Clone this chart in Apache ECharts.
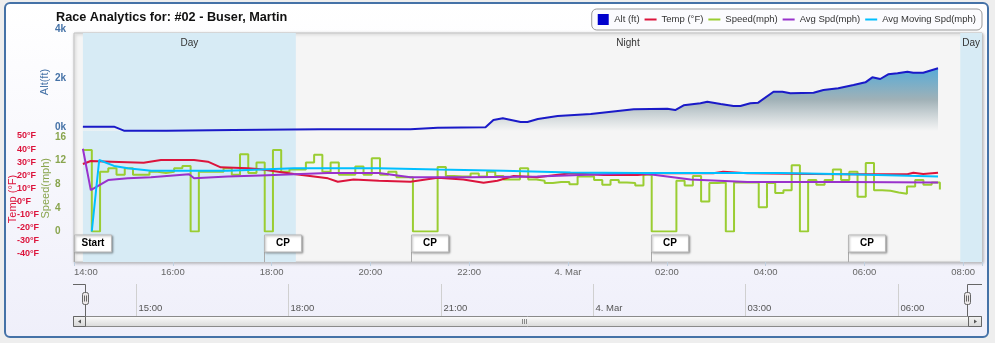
<!DOCTYPE html>
<html><head><meta charset="utf-8">
<script src="https://cdn.jsdelivr.net/npm/echarts@6.0.0/dist/echarts.min.js"></script>
<style>html,body{margin:0;padding:0;background:#eeeeee;}#c{width:995px;height:343px;}</style>
</head><body><div id="c"></div>
<script>
// ---------- data (time in hours from 00:00 of 3 Mar; 24 = 4. Mar 00:00) ----------
const chartTitle = 'Race Analytics for: #02 - Buser, Martin';
const xMin = 14, xMax = 32.38;
const navMin = 14, navMax = 31.38;
const navTicks = [15, 18, 21, 24, 27, 30];
const bandNames = ['Day', 'Night', 'Day'];
const bandStart = [14.18, 18.49, 31.94];
const bandEnd = [18.49, 31.94, 32.38];
const flagTimes = [14.0, 17.84, 20.83, 25.67, 29.67];
const flagLabels = ['Start', 'CP', 'CP', 'CP', 'CP'];

const altT = [14.18,14.81,15.01,15.88,17.23,18.99,19.54,20.81,21.36,22.33,22.49,22.68,23.04,23.18,23.39,23.79,24.46,25.33,26.01,26.17,26.34,26.68,26.82,27.09,27.35,27.49,27.69,27.85,28.16,28.34,28.50,28.97,29.17,29.47,29.78,30.02,30.16,30.32,30.48,30.67,30.87,30.99,31.19,31.49];
const altV = [176,176,15,12,41,68,68,68,136,150,449,517,367,370,490,612,694,884,912,857,1048,1130,1197,1102,1020,1020,1130,1156,1604,1604,1537,1564,1673,1741,1877,1986,2190,2122,2313,2354,2422,2381,2381,2558];

const tempT = [14.18,14.34,14.75,15.41,15.76,16.43,16.71,16.97,17.52,17.78,18.45,19.14,19.34,19.66,20.17,20.81,21.36,21.88,22.29,22.57,22.90,23.38,24.05,24.72,25.41,25.81,26.28,26.94,27.14,27.63,28.97,29.65,30.87,30.99,31.19,31.49];
const tempV = [28.6,30.9,30.4,29.6,31.7,31.7,30.4,26.1,25.4,24.6,21.0,17.7,15.1,16.9,15.9,15.1,18.2,16.9,14.4,15.9,19.5,18.5,21.6,20.3,20.3,21.6,21.6,21.6,22.8,21.6,21.0,20.8,20.8,22.0,21.0,22.0];

// speed sampled every 10 minutes from 14:11
const speedStart = 14.194;
const speedStepMin = 10;
const speedV = [13.8,0,10.1,10.7,9.6,10.7,9.6,9.6,10.1,9.9,10.1,10.7,11.1,0,10.1,10.1,10.1,10.7,9.6,13.1,9.9,11.7,0,13.8,10.1,10.5,10.5,11.7,13.0,10.1,11.7,9.6,9.6,11.0,9.6,12.4,9.6,10.1,9.2,9.2,0,0,0,10.9,9.4,9.3,9.3,9.8,9.3,10.1,9.4,8.8,8.8,10.7,8.8,8.6,8.2,8.4,8.4,8.0,9.3,9.3,8.7,7.9,8.7,8.3,8.2,7.8,9.6,0,0,0,8.6,7.8,9.4,5.1,8.2,8.3,0,8.3,8.3,8.3,4.1,8.2,6.5,7.0,11.2,0,8.7,7.9,8.7,10.5,8.7,10.1,5.9,11.6,7.0,6.9,6.6,6.4,7.6,8.7,7.9,8.3,7.1];

const avgT = [14.18,14.34,14.69,15.09,15.56,16.33,16.43,17.11,17.78,18.45,19.14,20.17,20.81,22.03,23.38,25.41,25.73,26.48,27.63,29.65,31.49];
const avgV = [14.0,7.0,8.7,9.0,9.2,9.7,9.0,9.3,9.5,9.7,9.9,9.9,9.2,9.2,9.3,9.9,9.6,8.8,8.4,8.4,8.3];

const movT = [14.36,14.51,14.81,15.09,15.56,16.43,17.11,17.78,18.45,20.17,21.36,22.70,24.05,25.41,26.48,28.30,29.65,31.49];
const movV = [0,12.1,11.1,10.7,10.3,10.3,10.3,10.5,10.7,10.7,10.5,10.3,10.0,9.9,9.9,9.9,9.7,9.3];

// ---------- chart ----------
const FONT = '"Liberation Sans", Arial, sans-serif';
const pair = (t, v) => t.map((x, i) => [x, v[i]]);
const speedData = speedV.map((v, i) => [speedStart + i * speedStepMin / 60, v]);
function fmtHour(v) {
  const r = Math.round(v);
  if (Math.abs(v - r) > 1e-6) return '';
  const h = r % 24;
  if (h === 0) return '4. Mar';
  return (h < 10 ? '0' : '') + h + ':00';
}
function fmtMain(v) {
  const r = Math.round(v);
  if (Math.abs(v - r) > 1e-6 || r % 2) return '';
  return fmtHour(v);
}

const chart = echarts.init(document.getElementById('c'), null, {renderer: 'canvas'});
const gridBase = {left: 74, right: 13, containLabel: false, outerBoundsMode: 'none'};
const hiddenX = (g, min, max) => ({type: 'value', gridIndex: g, min: min, max: max, show: false});
const yCommon = {type: 'value', position: 'left', axisLine: {show: false}, axisTick: {show: false}, splitLine: {show: false}, nameLocation: 'middle', nameRotate: 90, nameMoveOverlap: false};
const G = echarts.graphic;
const LINE_ICON = 'path://M0,0L12,0L12,2L0,2Z';

const option = {
  animation: false,
  backgroundColor: '#eeeeee',
  title: {text: chartTitle, left: 51, top: 6, textStyle: {fontSize: 12.7, fontWeight: 'bold', color: '#111', fontFamily: FONT}},
  legend: {
    right: 13, top: 9, selectedMode: false, symbolKeepAspect: true,
    data: [
      {name: 'Alt (ft)', icon: 'path://M0,0L10,0L10,10L0,10Z'},
      {name: 'Temp (°F)', icon: LINE_ICON},
      {name: 'Speed(mph)', icon: LINE_ICON},
      {name: 'Avg Spd(mph)', icon: LINE_ICON},
      {name: 'Avg Moving Spd(mph)', icon: LINE_ICON}
    ],
    itemWidth: 12, itemHeight: 11, itemGap: 5, padding: [5, 6, 5, 6],
    backgroundColor: '#fbfbfe', borderColor: '#999', borderWidth: 1, borderRadius: 5,
    textStyle: {fontSize: 9.5, color: '#333', fontFamily: FONT}
  },
  grid: [
    Object.assign({}, gridBase, {top: 33, height: 229, show: true, backgroundColor: '#f5f5f5', borderColor: '#c2c2c2', borderWidth: 1, shadowColor: 'rgba(0,0,0,0.25)', shadowBlur: 3, shadowOffsetX: 1, shadowOffsetY: 1}),
    Object.assign({}, gridBase, {top: 33, height: 98}),
    Object.assign({}, gridBase, {top: 137, height: 94.5}),
    Object.assign({}, gridBase, {top: 136, height: 118}),
    {left: 85, right: 27, top: 284, height: 32, containLabel: false, outerBoundsMode: 'none'}
  ],
  xAxis: [
    {type: 'value', gridIndex: 0, min: xMin, max: xMax, interval: 2,
     axisLine: {show: false}, axisTick: {show: true, length: 4, lineStyle: {color: '#c0d0e0'}},
     splitLine: {show: false},
     axisLabel: {margin: 5, color: '#666', fontSize: 9.5, fontFamily: FONT, formatter: fmtMain, alignMinLabel: 'left', showMinLabel: true}},
    hiddenX(1, xMin, xMax), hiddenX(2, xMin, xMax), hiddenX(3, xMin, xMax), hiddenX(4, navMin, navMax)
  ],
  yAxis: [
    {type: 'value', gridIndex: 0, min: 0, max: 1, show: false},
    Object.assign({}, yCommon, {gridIndex: 1, min: 0, max: 4000, interval: 2000,
      axisLabel: {align: 'left', verticalAlign: 'bottom', lineHeight: 7, margin: 19, color: '#4572a7', fontWeight: 'bold', fontSize: 10, fontFamily: FONT, formatter: v => (v / 1000) + 'k'},
      name: 'Alt(ft)', nameGap: 24, nameTextStyle: {color: '#4572a7', fontSize: 11, fontFamily: FONT}}),
    Object.assign({}, yCommon, {gridIndex: 2, min: 0, max: 16, interval: 4,
      axisLabel: {align: 'left', margin: 19, color: '#89a54e', fontWeight: 'bold', fontSize: 10, fontFamily: FONT},
      name: 'Speed(mph)', nameGap: 23, nameTextStyle: {color: '#89a54e', fontSize: 11, fontFamily: FONT, padding: [0, 8, 0, 0]}}),
    Object.assign({}, yCommon, {gridIndex: 3, min: -40, max: 50, interval: 10,
      axisLabel: {align: 'left', margin: 57, color: '#dc143c', fontWeight: 'bold', fontSize: 9, fontFamily: FONT, formatter: v => v + '°F'},
      name: 'Temp (°F)', nameGap: 56, nameTextStyle: {color: '#dc143c', fontSize: 11, fontFamily: FONT, padding: [0, 8, 0, 0]}}),
    {type: 'value', gridIndex: 4, min: 0, max: 1, show: false}
  ],
  graphic: [
    {type: 'rect', z: -10, shape: {x: 5, y: 3, width: 983, height: 334, r: 5},
     style: {fill: new G.LinearGradient(0, 0, 0, 1, [{offset: 0, color: '#ffffff'}, {offset: 1, color: '#efeffa'}]), stroke: '#4572a7', lineWidth: 2}},
    // navigator outline
    {type: 'polyline', z: 50, shape: {points: [[73, 284.5], [85.5, 284.5], [85.5, 316]]}, style: {stroke: '#666', lineWidth: 1, fill: null}},
    {type: 'polyline', z: 50, shape: {points: [[967.5, 316], [967.5, 284.5], [982, 284.5]]}, style: {stroke: '#666', lineWidth: 1, fill: null}},
    // handles
    {type: 'rect', z: 51, shape: {x: 82.5, y: 292.5, width: 6, height: 12, r: 2}, style: {fill: '#ebe7e8', stroke: '#666', lineWidth: 1}},
    {type: 'line', z: 52, shape: {x1: 84.5, y1: 295.5, x2: 84.5, y2: 301.5}, style: {stroke: '#666', lineWidth: 1}},
    {type: 'line', z: 52, shape: {x1: 86.5, y1: 295.5, x2: 86.5, y2: 301.5}, style: {stroke: '#666', lineWidth: 1}},
    {type: 'rect', z: 51, shape: {x: 964.5, y: 292.5, width: 6, height: 12, r: 2}, style: {fill: '#ebe7e8', stroke: '#666', lineWidth: 1}},
    {type: 'line', z: 52, shape: {x1: 966.5, y1: 295.5, x2: 966.5, y2: 301.5}, style: {stroke: '#666', lineWidth: 1}},
    {type: 'line', z: 52, shape: {x1: 968.5, y1: 295.5, x2: 968.5, y2: 301.5}, style: {stroke: '#666', lineWidth: 1}},
    // scrollbar
    {type: 'rect', z: 50, shape: {x: 73.5, y: 316.5, width: 908, height: 10},
     style: {fill: new G.LinearGradient(0, 0, 0, 1, [{offset: 0, color: '#fdfdfd'}, {offset: 1, color: '#d8d8d8'}]), stroke: '#8a8a8a', lineWidth: 1}},
    {type: 'rect', z: 51, shape: {x: 73.5, y: 316.5, width: 12, height: 10},
     style: {fill: new G.LinearGradient(0, 0, 0, 1, [{offset: 0, color: '#f4f4f4'}, {offset: 1, color: '#d6d6d6'}]), stroke: '#666', lineWidth: 1}},
    {type: 'rect', z: 51, shape: {x: 968.5, y: 316.5, width: 13, height: 10},
     style: {fill: new G.LinearGradient(0, 0, 0, 1, [{offset: 0, color: '#f4f4f4'}, {offset: 1, color: '#d6d6d6'}]), stroke: '#666', lineWidth: 1}},
    {type: 'polygon', z: 52, shape: {points: [[81, 319.5], [81, 323.5], [78, 321.5]]}, style: {fill: '#555'}},
    {type: 'polygon', z: 52, shape: {points: [[974, 319.5], [974, 323.5], [977, 321.5]]}, style: {fill: '#555'}},
    {type: 'line', z: 52, shape: {x1: 522.5, y1: 319, x2: 522.5, y2: 324}, style: {stroke: '#888', lineWidth: 1}},
    {type: 'line', z: 52, shape: {x1: 524.5, y1: 319, x2: 524.5, y2: 324}, style: {stroke: '#888', lineWidth: 1}},
    {type: 'line', z: 52, shape: {x1: 526.5, y1: 319, x2: 526.5, y2: 324}, style: {stroke: '#888', lineWidth: 1}}
  ],
  series: [
    {name: 'bands', type: 'line', xAxisIndex: 0, yAxisIndex: 0, data: [], silent: true, z: 1,
     markArea: {silent: true, itemStyle: {color: '#d7ebf5'},
       label: {position: 'insideTop', distance: 5, color: '#333', fontSize: 10, fontFamily: FONT},
       data: bandStart.map((s, i) => [
         Object.assign({name: bandNames[i], xAxis: s}, bandNames[i] === 'Night' ? {itemStyle: {color: 'rgba(0,0,0,0)'}} : {}),
         {xAxis: bandEnd[i]}])}},
    {name: 'Alt (ft)', type: 'line', xAxisIndex: 1, yAxisIndex: 1, data: pair(altT, altV), symbol: 'none', z: 3,
     color: '#0000cc', lineStyle: {color: '#1a1ac8', width: 2},
     areaStyle: {color: new G.LinearGradient(0, 0, 0, 1, [{offset: 0, color: '#138ccb'}, {offset: 0.5, color: '#7c949c'}, {offset: 1, color: 'rgba(245,245,245,0.9)'}])}},
    {name: 'Speed(mph)', type: 'line', step: 'end', xAxisIndex: 2, yAxisIndex: 2, data: speedData, symbol: 'none', z: 4,
     color: '#9acd32', lineStyle: {color: '#9acd32', width: 2}},
    {name: 'Temp (°F)', type: 'line', xAxisIndex: 3, yAxisIndex: 3, data: pair(tempT, tempV), symbol: 'none', z: 5,
     color: '#dc143c', lineStyle: {color: '#dc143c', width: 2}},
    {name: 'Avg Spd(mph)', type: 'line', xAxisIndex: 2, yAxisIndex: 2, data: pair(avgT, avgV), symbol: 'none', z: 5,
     color: '#9932cc', lineStyle: {color: '#9932cc', width: 2}},
    {name: 'Avg Moving Spd(mph)', type: 'line', xAxisIndex: 2, yAxisIndex: 2, data: pair(movT, movV), symbol: 'none', z: 5,
     color: '#00bfff', lineStyle: {color: '#00bfff', width: 2}},
    {name: 'flags', type: 'custom', xAxisIndex: 0, yAxisIndex: 0, data: flagTimes.map((t, i) => [t, i]), clip: false, silent: true, z: 10,
     renderItem: function (params, api) {
       const x = Math.round(api.coord([api.value(0), 0])[0]) + 0.5;
       const cs = params.coordSys;
       const b = cs.y + cs.height;
       const label = flagLabels[api.value(1)];
       return {type: 'group', children: [
         {type: 'line', shape: {x1: x, y1: b - 10, x2: x, y2: b}, style: {stroke: '#aaa', lineWidth: 1}},
         {type: 'rect', shape: {x: x, y: b - 27, width: 37, height: 17},
          style: {fill: '#ffffff', stroke: '#b8b8b8', lineWidth: 1, shadowBlur: 2, shadowColor: 'rgba(0,0,0,0.3)', shadowOffsetX: 1, shadowOffsetY: 1}},
         {type: 'text', style: {text: label, x: x + 18.5, y: b - 18.5, align: 'center', verticalAlign: 'middle', font: 'bold 10px ' + FONT, fill: '#000'}}
       ]};
     }},
    {name: 'navTicks', type: 'custom', xAxisIndex: 4, yAxisIndex: 4, data: navTicks.map(t => [t, 0]), clip: false, silent: true, z: 6,
     renderItem: function (params, api) {
       const x = Math.round(api.coord([api.value(0), 0])[0]) + 0.5;
       const cs = params.coordSys;
       return {type: 'group', children: [
         {type: 'line', shape: {x1: x, y1: cs.y, x2: x, y2: cs.y + cs.height}, style: {stroke: '#d0d0d0', lineWidth: 1}},
         {type: 'text', style: {text: fmtHour(api.value(0)), x: x + 2, y: cs.y + cs.height - 7.5, align: 'left', verticalAlign: 'middle', font: '9.5px ' + FONT, fill: '#555'}}
       ]};
     }}
  ]
};
chart.setOption(option);
</script></body></html>
